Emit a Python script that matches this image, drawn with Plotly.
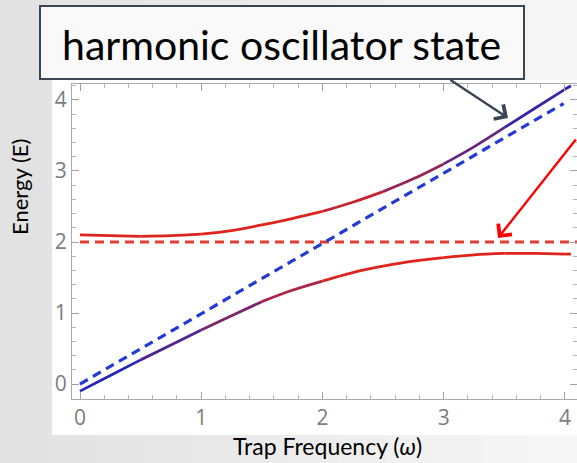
import plotly.graph_objects as go

# ---- data ----------------------------------------------------------------
omega = [0.0, 0.25, 0.5, 0.75, 1.0, 1.25, 1.5, 1.75, 2.0, 2.25, 2.5, 2.75,
         3.0, 3.25, 3.5, 3.75, 4.0, 4.05]
upper_branch = [2.10, 2.09, 2.08, 2.09, 2.11, 2.16, 2.24, 2.33, 2.43, 2.56,
                2.71, 2.89, 3.10, 3.34, 3.61, 3.88, 4.15, 4.20]
lower_branch = [-0.10, 0.12, 0.34, 0.55, 0.76, 0.96, 1.16, 1.32, 1.45, 1.57,
                1.66, 1.73, 1.78, 1.82, 1.84, 1.84, 1.83, 1.83]

# bare harmonic-oscillator level E = omega and the fixed level E = 2
ho_omega = [0.0, 3.99]
ho_energy = [0.0, 3.95]
flat_omega = [0.0, 4.1]
flat_energy = [2.0, 2.0]

x_ticks = [0, 1, 2, 3, 4]
y_ticks = [0, 1, 2, 3, 4]

# ---- figure geometry ----------------------------------------------------
W, H = 577, 463
ML, MR, MT, MB = 72, 0, 84, 64
PW, PH = W - ML - MR, H - MT - MB


def px(xp):
    return (xp - ML) / PW


def py(yp):
    return (H - MB - yp) / PH


RED = (222, 36, 28)
BLUE = (38, 38, 178)


def blend(w):
    r = [round(RED[i] + (BLUE[i] - RED[i]) * w) for i in range(3)]
    return f"rgb({r[0]},{r[1]},{r[2]})"


def ramp(v, a, b):
    t = (v - a) / (b - a)
    return max(0.0, min(1.0, t))


fig = go.Figure()

# dashed reference levels
fig.add_trace(go.Scatter(x=flat_omega, y=flat_energy, mode="lines",
                         line=dict(color="rgb(226,60,48)", width=3, dash="9px,6px"),
                         hoverinfo="skip", showlegend=False))
fig.add_trace(go.Scatter(x=ho_omega, y=ho_energy, mode="lines",
                         line=dict(color="rgb(34,58,214)", width=3.2, dash="9px,6px"),
                         hoverinfo="skip", showlegend=False))

# coupled branches, drawn piecewise and coloured by oscillator character
step = 2
for i in range(0, len(omega) - 1, step):
    j = min(i + step, len(omega) - 1)
    mid = 0.5 * (omega[i] + omega[j])
    w_up = ramp(mid, 2.0, 3.9)
    w_lo = 1.0 - ramp(mid, 0.3, 2.3)
    fig.add_trace(go.Scatter(x=omega[i:j + 1], y=upper_branch[i:j + 1], mode="lines",
                             line=dict(color=blend(w_up), width=2.8, shape="spline"),
                             hoverinfo="skip", showlegend=False))
    fig.add_trace(go.Scatter(x=omega[i:j + 1], y=lower_branch[i:j + 1], mode="lines",
                             line=dict(color=blend(w_lo), width=2.8, shape="spline"),
                             hoverinfo="skip", showlegend=False))

# ---- background ----------------------------------------------------------
shapes = []
n_strips = 12
for k in range(n_strips):
    g = round(226 + (246 - 226) * k / (n_strips - 1))
    shapes.append(dict(type="rect", xref="paper", yref="paper", layer="below",
                       x0=px(W * k / n_strips), x1=px(W * (k + 1) / n_strips + 1),
                       y0=py(H), y1=py(0), line=dict(width=0),
                       fillcolor=f"rgb({g},{g},{g})"))
shapes.append(dict(type="rect", xref="paper", yref="paper", layer="below",
                   x0=px(52), x1=px(W + 2), y0=py(435), y1=py(80),
                   line=dict(width=0), fillcolor="white"))
# label box
shapes.append(dict(type="rect", xref="paper", yref="paper", layer="above",
                   x0=px(40), x1=px(524), y0=py(79), y1=py(6),
                   line=dict(color="rgb(58,70,86)", width=2),
                   fillcolor="rgb(249,249,249)"))

annotations = [
    dict(text="harmonic oscillator state", xref="paper", yref="paper",
         x=px(281), y=py(44), showarrow=False, xanchor="center", yanchor="middle",
         font=dict(family="Lato", size=41, color="black")),
    dict(text="Energy (E)", xref="paper", yref="paper", x=px(19), y=py(187),
         showarrow=False, textangle=-90, xanchor="center", yanchor="middle",
         font=dict(family="Lato", size=22, color="black")),
    dict(text="Trap Frequency (<i>ω</i>)", xref="paper", yref="paper",
         x=px(327), y=py(446), showarrow=False, xanchor="center", yanchor="middle",
         font=dict(family="Lato", size=23, color="black")),
    # arrow from the label box to the oscillator branch
    dict(xref="paper", yref="paper", axref="pixel", ayref="pixel",
         x=px(508), y=py(118), ax=449 - 508, ay=79 - 118, text="",
         showarrow=True, arrowhead=4, arrowsize=1.4, arrowwidth=2.4,
         arrowcolor="rgb(58,70,86)"),
    # red arrow to the fixed level
    dict(xref="paper", yref="paper", axref="pixel", ayref="pixel",
         x=px(498), y=py(238), ax=88, ay=-100, text="",
         showarrow=True, arrowhead=4, arrowsize=1.4, arrowwidth=2.4,
         arrowcolor="rgb(255,0,0)"),
]

axis_common = dict(
    showgrid=False, zeroline=False, showline=True, linecolor="rgb(170,170,170)",
    linewidth=1, mirror="ticks", ticks="inside", ticklen=7, tickwidth=1,
    tickcolor="rgb(160,160,160)",
    tickfont=dict(family="Open Sans", size=21, color="rgb(125,125,125)"),
    minor=dict(ticks="inside", ticklen=4, tickcolor="rgb(180,180,180)", dtick=0.2),
)

fig.update_layout(
    width=W, height=H,
    margin=dict(l=ML, r=MR, t=MT, b=MB),
    paper_bgcolor="rgb(236,236,236)", plot_bgcolor="white",
    xaxis=dict(range=[-0.066, 4.10], tickvals=x_ticks, **axis_common),
    yaxis=dict(range=[-0.211, 4.225], tickvals=y_ticks, **axis_common),
    shapes=shapes, annotations=annotations, showlegend=False,
)

fig.write_html("out.html")
